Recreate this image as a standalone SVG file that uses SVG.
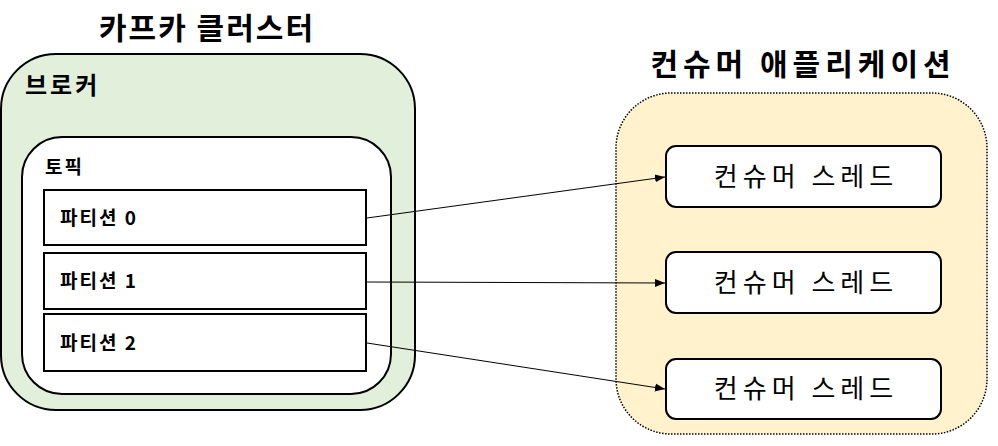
<svg xmlns="http://www.w3.org/2000/svg" width="998" height="446" viewBox="0 0 998 446">
<style>
text{font-family:"Noto Sans CJK KR","Liberation Sans",sans-serif;fill:#000}
.title{font-size:30px;font-weight:bold;text-anchor:middle;letter-spacing:2px}
.lbl{font-size:24px;font-weight:bold;letter-spacing:3px}
.part{font-size:19px;font-weight:bold;letter-spacing:2px}
.thr{font-size:26px;text-anchor:middle;letter-spacing:5px}
.box{fill:#fff;stroke:#000;stroke-width:2}
.conn{stroke:#000;stroke-width:1;fill:none;marker-end:url(#ah)}
</style>
<defs>
<marker id="ah" viewBox="0 0 10 10" refX="10" refY="5" markerWidth="10" markerHeight="10" markerUnits="userSpaceOnUse" orient="auto">
<path d="M0,1 L10,5 L0,9 Z" fill="#000"/>
</marker>
</defs>
<g id="kafka-cluster">
<text class="title" x="207" y="39">카프카 클러스터</text>
</g>
<g id="broker">
<rect x="1" y="54" width="414" height="356" rx="55" ry="55" fill="#e2efda" stroke="#000" stroke-width="2"/>
<text class="lbl" x="25" y="94">브로커</text>
</g>
<g id="topic">
<rect x="22" y="137" width="369" height="257" rx="40" ry="40" class="box"/>
<text class="part" x="45" y="174">토픽</text>
</g>
<g id="partition0">
<rect x="44" y="190" width="322" height="55" class="box"/>
<text class="part" x="60" y="225">파티션 0</text>
</g>
<g id="partition1">
<rect x="44" y="253" width="322" height="56" class="box"/>
<text class="part" x="60" y="288">파티션 1</text>
</g>
<g id="partition2">
<rect x="44" y="314" width="322" height="57" class="box"/>
<text class="part" x="60" y="350">파티션 2</text>
</g>
<g id="consumer-app">
<text class="title" x="803" y="75" style="letter-spacing:5px">컨슈머 애플리케이션</text>
<rect x="616" y="93" width="371" height="341" rx="55" ry="55" fill="#fff2cc" stroke="#000" stroke-width="1.5" stroke-dasharray="1.5 1.5"/>
</g>
<g id="thread1">
<rect x="666" y="146" width="275" height="61" rx="10" ry="10" class="box"/>
<text class="thr" x="806" y="186">컨슈머 스레드</text>
</g>
<g id="thread2">
<rect x="666" y="252" width="275" height="61" rx="10" ry="10" class="box"/>
<text class="thr" x="806" y="292">컨슈머 스레드</text>
</g>
<g id="thread3">
<rect x="666" y="359" width="275" height="60" rx="10" ry="10" class="box"/>
<text class="thr" x="806" y="398">컨슈머 스레드</text>
</g>
<g id="connectors">
<line class="conn" x1="367" y1="218" x2="665" y2="177"/>
<line class="conn" x1="367" y1="282" x2="665" y2="283"/>
<line class="conn" x1="367" y1="343" x2="665" y2="389"/>
</g>
</svg>
